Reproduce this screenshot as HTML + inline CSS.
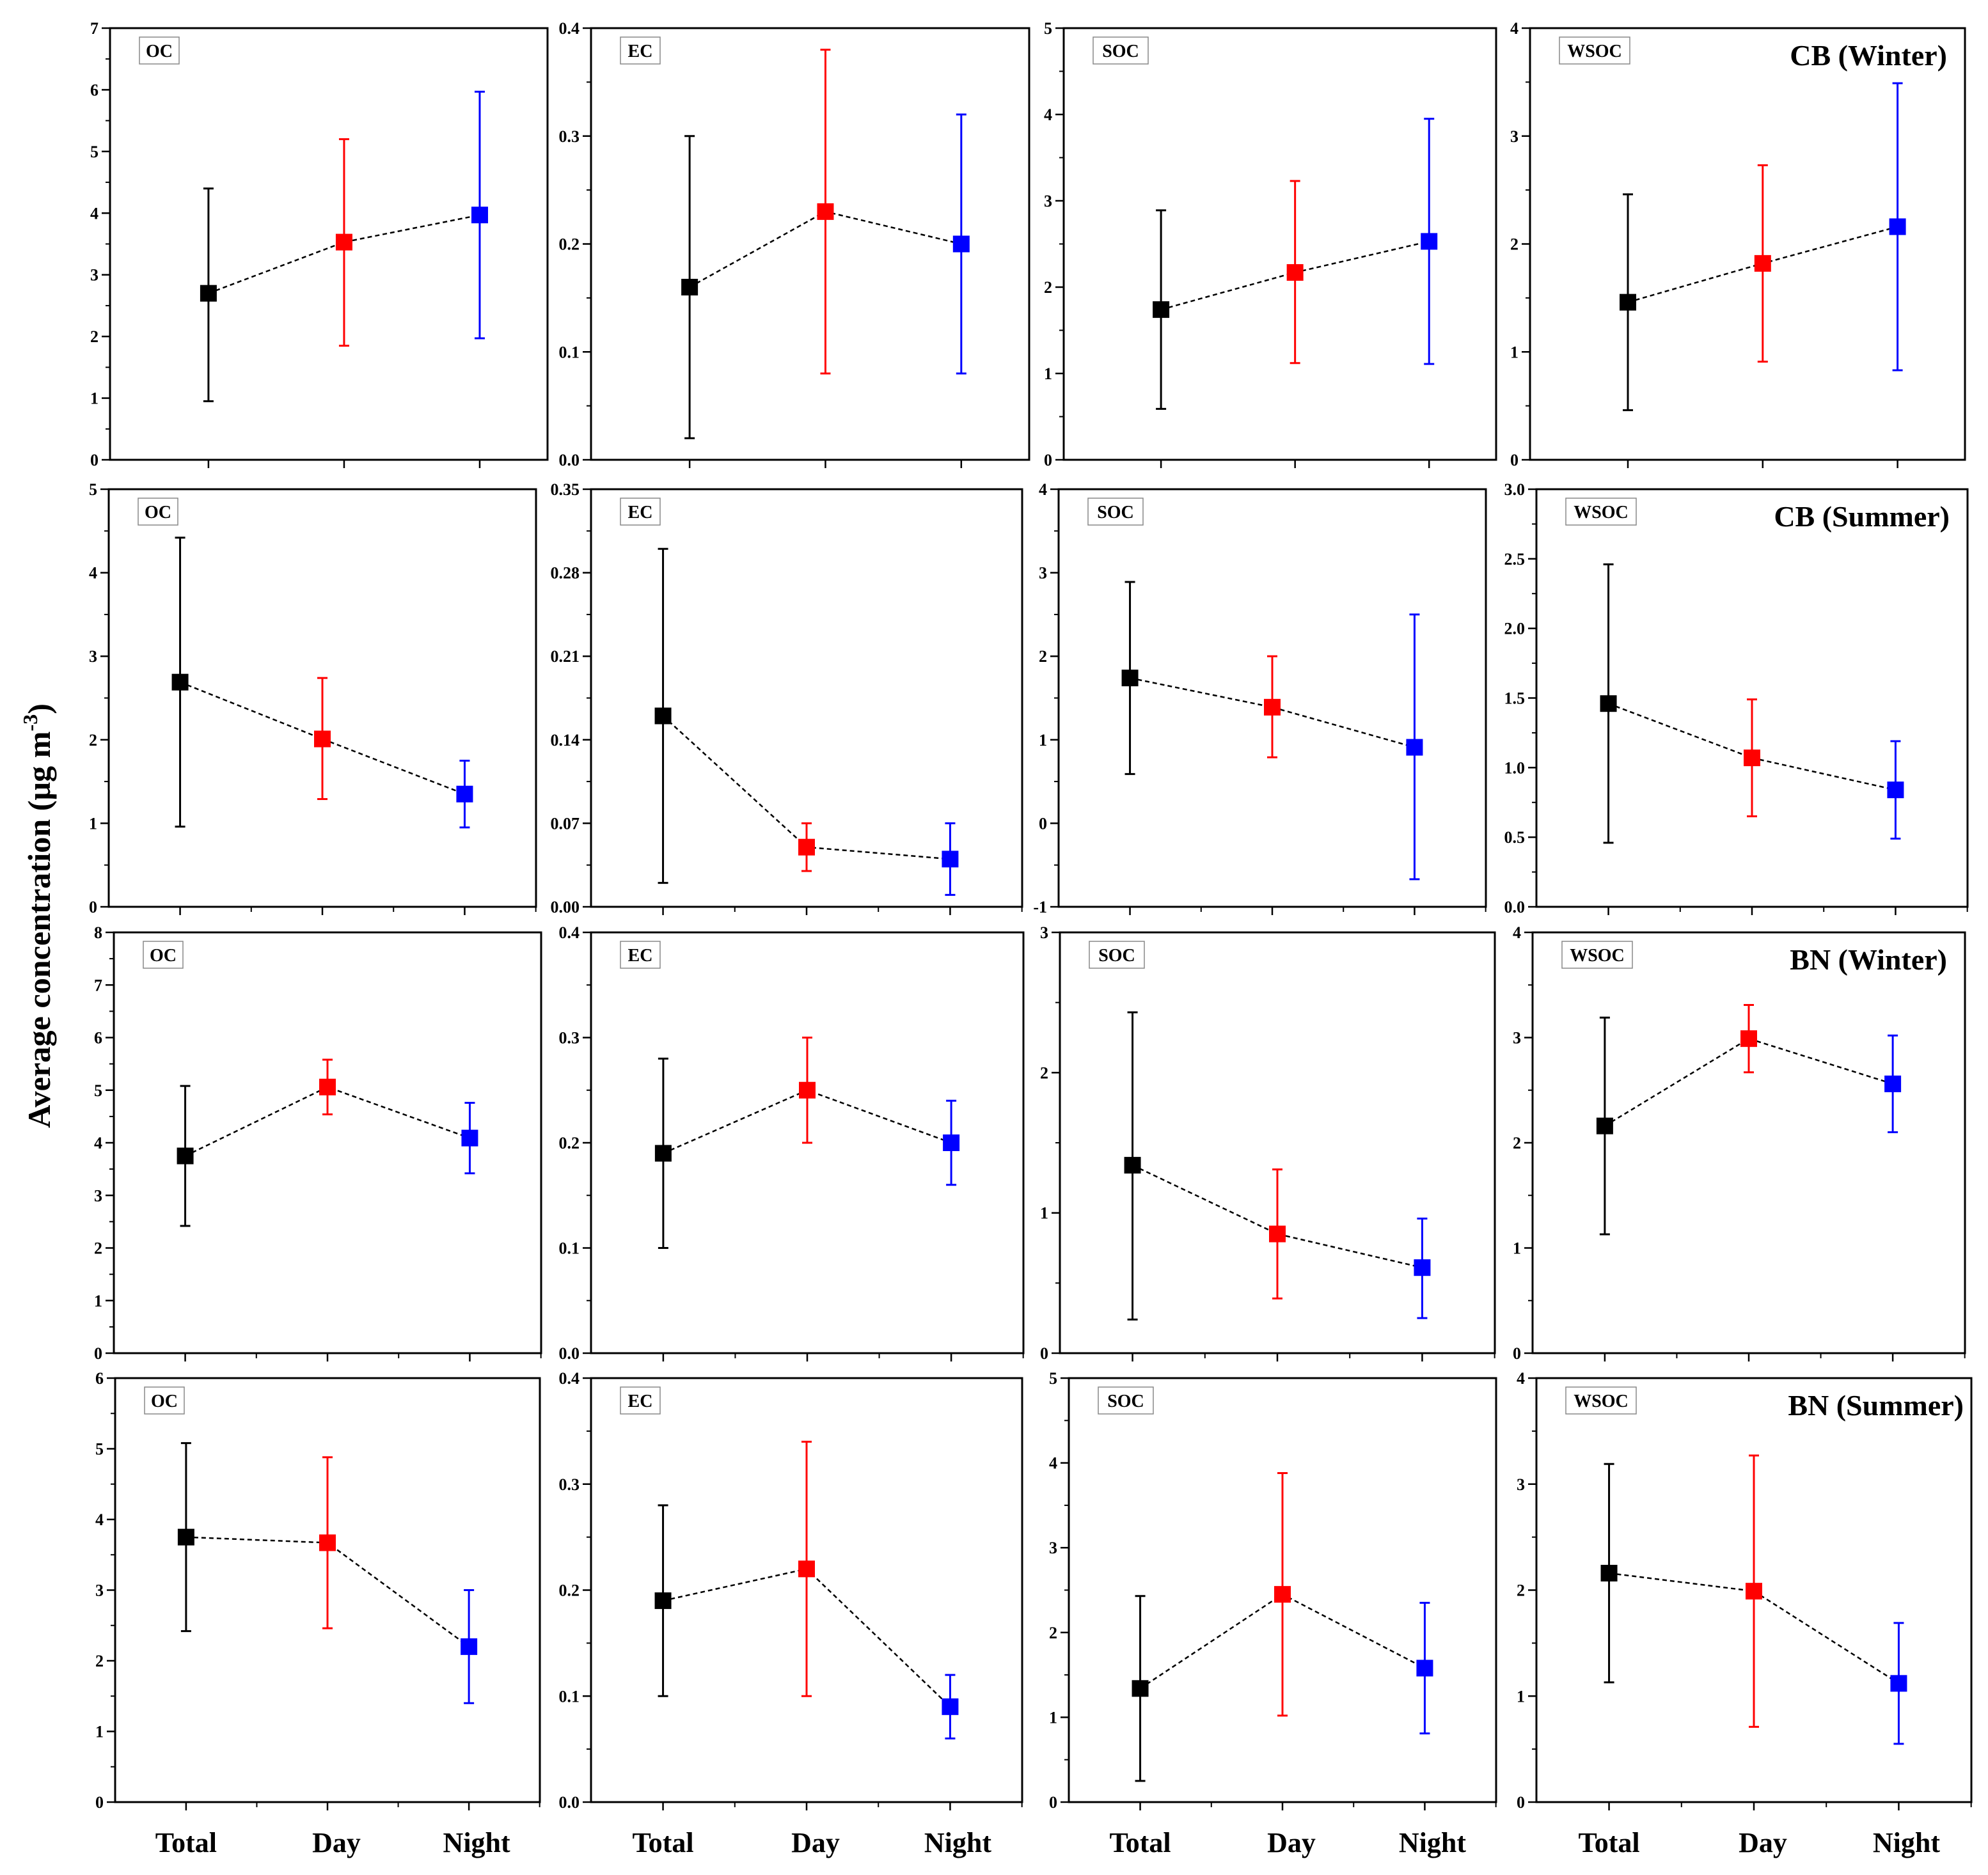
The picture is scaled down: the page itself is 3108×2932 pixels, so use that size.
<!DOCTYPE html>
<html><head><meta charset="utf-8">
<style>
html,body{margin:0;padding:0;background:#fff;}
svg{display:block;font-family:"Liberation Serif",serif;font-weight:bold;}
</style></head>
<body>
<svg id="chart" width="3108" height="2932" viewBox="0 0 3108 2932" xmlns="http://www.w3.org/2000/svg">
<rect x="0" y="0" width="3108" height="2932" fill="#fff"/>
<text transform="translate(78,1432) rotate(-90)" text-anchor="middle" font-size="50" textLength="664" lengthAdjust="spacingAndGlyphs">Average concentration (μg m<tspan dy="-20" font-size="32">-3</tspan><tspan dy="20">)</tspan></text>
</svg>
<script>
// ---- data ----
const categories = ["Total","Day","Night"];
const rowTitles = ["CB (Winter)","CB (Summer)","BN (Winter)","BN (Summer)"];
const panelNames = ["OC","EC","SOC","WSOC"];
const yMin = [[0,0,0,0],[0,0,-1,0],[0,0,0,0],[0,0,0,0]];
const yMax = [[7,0.4,5,4],[5,0.35,4,3],[8,0.4,3,4],[6,0.4,5,4]];
const yStep = [[1,0.1,1,1],[1,0.07,1,0.5],[1,0.1,1,1],[1,0.1,1,1]];
const yDecimals = [[0,1,0,0],[0,2,0,1],[0,1,0,0],[0,1,0,0]];
const means = [
 [[2.70,3.53,3.97],[0.16,0.23,0.20],[1.74,2.17,2.53],[1.46,1.82,2.16]],
 [[2.69,2.01,1.35],[0.16,0.05,0.04],[1.74,1.39,0.91],[1.46,1.07,0.84]],
 [[3.75,5.06,4.09],[0.19,0.25,0.20],[1.34,0.85,0.61],[2.16,2.99,2.56]],
 [[3.75,3.67,2.20],[0.19,0.22,0.09],[1.34,2.45,1.58],[2.16,1.99,1.12]]
];
const lows = [
 [[0.95,1.85,1.97],[0.02,0.08,0.08],[0.59,1.12,1.11],[0.46,0.91,0.83]],
 [[0.96,1.29,0.95],[0.02,0.03,0.01],[0.59,0.79,-0.67],[0.46,0.65,0.49]],
 [[2.42,4.54,3.42],[0.10,0.20,0.16],[0.24,0.39,0.25],[1.13,2.67,2.10]],
 [[2.42,2.46,1.40],[0.10,0.10,0.06],[0.25,1.02,0.81],[1.13,0.71,0.55]]
];
const highs = [
 [[4.40,5.20,5.97],[0.30,0.38,0.32],[2.89,3.23,3.95],[2.46,2.73,3.49]],
 [[4.42,2.74,1.75],[0.30,0.07,0.07],[2.89,2.00,2.50],[2.46,1.49,1.19]],
 [[5.08,5.58,4.76],[0.28,0.30,0.24],[2.43,1.31,0.96],[3.19,3.31,3.02]],
 [[5.08,4.88,3.00],[0.28,0.34,0.12],[2.43,3.88,2.35],[3.19,3.27,1.69]]
];
// ---- layout ----
const rowY = [[44,719],[765,1418],[1458,2116],[2155,2818]];
const colX = [
 [[172,856],[924,1609],[1663,2339],[2392,3072]],
 [[170,838],[924,1598],[1655,2323],[2402,3076]],
 [[178,846],[924,1600],[1657,2337],[2396,3072]],
 [[180,844],[924,1598],[1671,2339],[2402,3082]]
];
const titleInset = [28,28,28,12];
const colors = ["#000000","#ff0000","#0000ff"];
const NS = "http://www.w3.org/2000/svg";
const svg = document.getElementById("chart");
function mk(tag, attrs, parent){
  const e = document.createElementNS(NS, tag);
  for (const k in attrs) e.setAttribute(k, attrs[k]);
  (parent||svg).appendChild(e);
  return e;
}
for (let r=0;r<4;r++){
  for (let c=0;c<4;c++){
    const [x0,x1] = colX[r][c], [y0,y1] = rowY[r];
    const g = mk("g",{});
    
    
    const lo = yMin[r][c], hi = yMax[r][c];
    const ys = v => y1 - (v-lo)/(hi-lo)*(y1-y0);
    const start = r===0 ? 0.225 : 0.167, step = r===0 ? 0.31 : 0.333;
    const xs = i => x0 + (start + step*i)*(x1-x0);
    const fr = mk("rect",{x:x0,y:y0,width:x1-x0,height:y1-y0,fill:"none",stroke:"#000","stroke-width":3},g);
    
    
    const st = yStep[r][c];
    const n = Math.round((hi-lo)/st);
    for (let k=0;k<=n;k++){
      const v = lo + k*st, y = ys(v);
      mk("line",{x1:x0-13,x2:x0,y1:y,y2:y,stroke:"#000","stroke-width":2.5},g);
      const t = mk("text",{x:x0-18,y:y+9,"text-anchor":"end","font-size":26},g);
      t.textContent = v.toFixed(yDecimals[r][c]);
      
      
      if (k<n){
        const ym = ys(v+st/2);
        mk("line",{x1:x0-7,x2:x0,y1:ym,y2:ym,stroke:"#000","stroke-width":2},g);
      }
    }
    for (let i=0;i<3;i++){
      mk("line",{x1:xs(i),x2:xs(i),y1:y1,y2:y1+13,stroke:"#000","stroke-width":2.5},g);
      if (r>0){
        mk("line",{x1:xs(i+0.5),x2:xs(i+0.5),y1:y1,y2:y1+8,stroke:"#000","stroke-width":2},g);
      }
    }
    const bw = panelNames[c].length*24+14;
    mk("rect",{x:x0+46,y:y0+14,width:bw,height:42,fill:"#fff",stroke:"#888","stroke-width":1.5},g);
    const pl = mk("text",{x:x0+46+bw/2,y:y0+45,"text-anchor":"middle","font-size":28},g);
    pl.textContent = panelNames[c];
    
    
    if (c===3){
      const tt = mk("text",{x:x1-titleInset[r],y:y0+58,"text-anchor":"end","font-size":46},g);
      tt.textContent = rowTitles[r];
      
      
    }
    const pts = means[r][c].map((v,i)=>xs(i)+","+ys(v)).join(" ");
    const pl2 = mk("polyline",{points:pts,fill:"none",stroke:"#000","stroke-width":2.5,"stroke-dasharray":"7,5"},g);
    
    
    for (let i=0;i<3;i++){
      const x = xs(i), col = colors[i];
      const eb = mk("g",{},g);
      
      
      const yl = ys(lows[r][c][i]), yh = ys(highs[r][c][i]);
      mk("line",{x1:x,x2:x,y1:yl,y2:yh,stroke:col,"stroke-width":3},eb);
      mk("line",{x1:x-8,x2:x+8,y1:yl,y2:yl,stroke:col,"stroke-width":3},eb);
      mk("line",{x1:x-8,x2:x+8,y1:yh,y2:yh,stroke:col,"stroke-width":3},eb);
      const m = mk("rect",{x:x-13,y:ys(means[r][c][i])-13,width:26,height:26,fill:col},g);
      
      
    }
    if (r===3){
      for (let i=0;i<3;i++){
        const xl = mk("text",{x:xs(i)+(i===0?0:i===1?14:12),y:2896,"text-anchor":"middle","font-size":44},g);
        xl.textContent = categories[i];
        
        
      }
    }
  }
}
</script>
</body></html>
